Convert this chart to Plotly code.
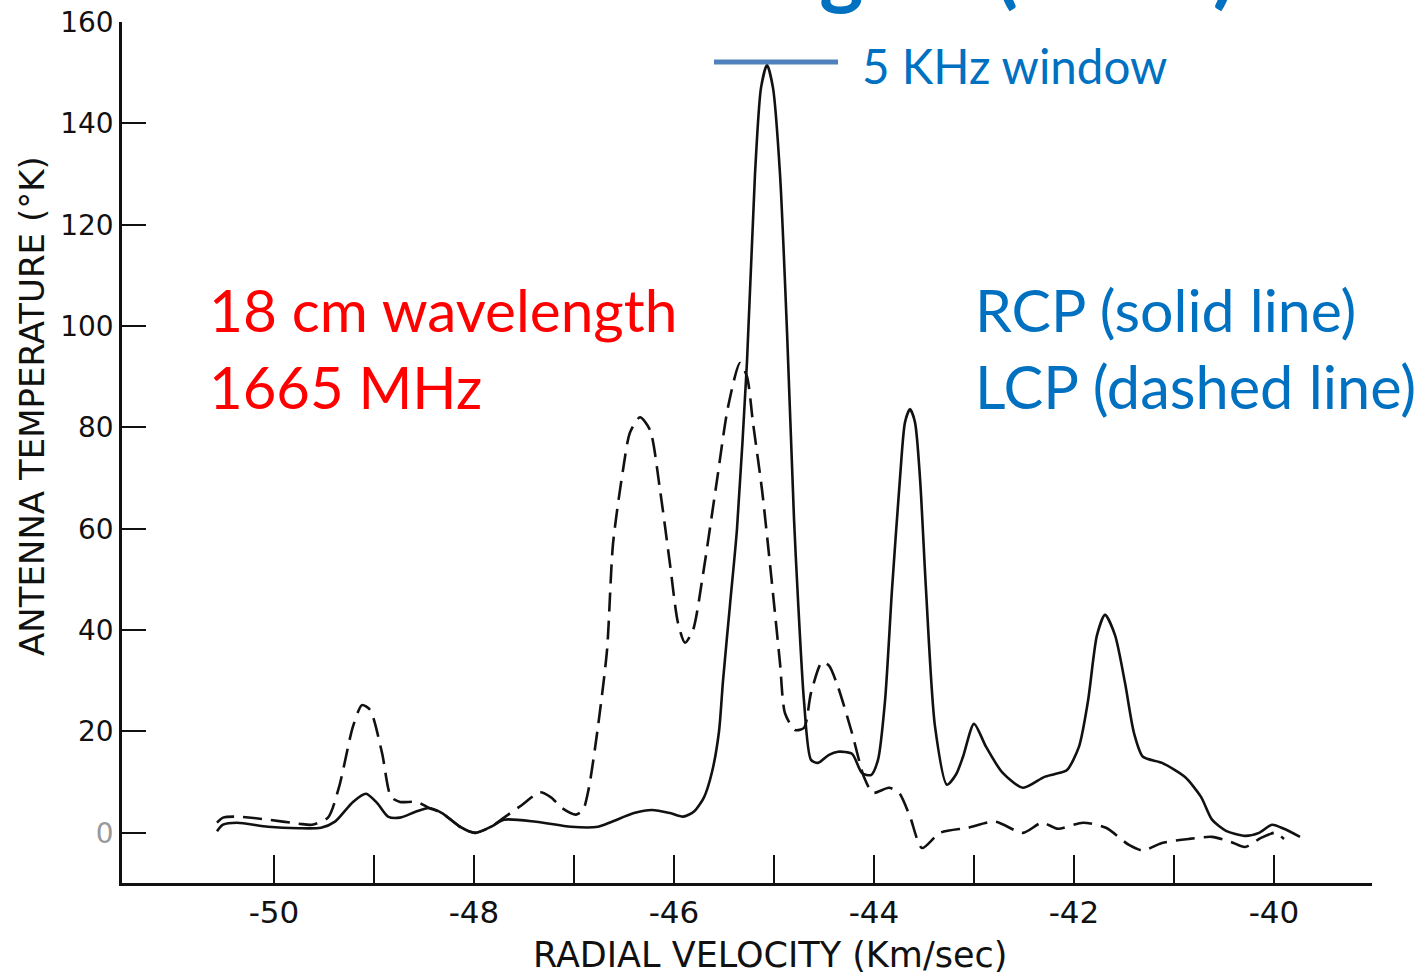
import plotly.graph_objects as go

# RCP (solid line) — radial velocity (km/s) vs antenna temperature (K)
rcp_v = [-50.57, -50.51, -50.37, -50.06, -49.75, -49.53, -49.39, -49.21, -49.08, -48.97,
         -48.86, -48.74, -48.59, -48.45, -48.32, -48.14, -47.99, -47.83, -47.70, -47.38,
         -47.03, -46.76, -46.62, -46.40, -46.22, -46.04, -45.91, -45.80, -45.70, -45.62,
         -45.55, -45.51, -45.44, -45.37, -45.27, -45.19, -45.13, -45.07, -45.01, -44.94,
         -44.87, -44.80, -44.76, -44.70, -44.63, -44.56, -44.45, -44.36, -44.22, -44.12,
         -44.03, -43.96, -43.89, -43.82, -43.74, -43.69, -43.64, -43.59, -43.54, -43.48,
         -43.39, -43.27, -43.18, -43.11, -43.00, -42.88, -42.72, -42.51, -42.30, -42.19,
         -42.07, -41.95, -41.86, -41.77, -41.69, -41.59, -41.49, -41.40, -41.31, -41.12,
         -40.89, -40.73, -40.62, -40.48, -40.29, -40.15, -40.02, -39.90, -39.74]
rcp_t = [0.3, 1.6, 2.0, 1.2, 0.9, 1.0, 2.2, 6.1, 7.7, 5.9,
         3.2, 3.0, 4.1, 4.9, 3.9, 1.2, 0.0, 1.2, 2.6, 2.2,
         1.2, 1.2, 2.2, 3.9, 4.5, 3.9, 3.2, 4.2, 7.0, 12.0,
         20.0, 30.0, 45.0, 60.0, 93.0, 130.0, 147.0, 151.5, 147.0, 130.0,
         99.0, 62.0, 46.0, 26.0, 14.4, 13.8, 15.4, 16.0, 15.6, 11.8,
         11.4, 14.4, 26.0, 48.0, 70.0, 81.0, 83.6, 81.0, 70.0, 48.0,
         21.0, 9.5, 11.5, 15.0, 21.5, 17.0, 12.0, 8.9, 11.0, 11.6,
         12.4, 17.0, 26.0, 39.0, 43.0, 39.0, 29.6, 19.7, 15.0, 13.8,
         11.0, 7.1, 2.6, 0.4, -0.6, 0.0, 1.6, 0.8, -0.8]

# LCP (dashed line)
lcp_v = [-50.57, -50.51, -50.37, -50.06, -49.75, -49.62, -49.46, -49.35, -49.21, -49.12,
         -49.04, -48.92, -48.83, -48.74, -48.57, -48.45, -48.32, -48.14, -47.99, -47.83,
         -47.70, -47.52, -47.34, -47.23, -47.12, -46.98, -46.91, -46.85, -46.76, -46.67,
         -46.61, -46.51, -46.44, -46.34, -46.24, -46.14, -46.04, -45.96, -45.89, -45.81,
         -45.71, -45.57, -45.46, -45.34, -45.27, -45.21, -45.12, -45.04, -44.94, -44.89,
         -44.79, -44.70, -44.63, -44.52, -44.45, -44.36, -44.22, -44.10, -44.01, -43.85,
         -43.75, -43.64, -43.52, -43.34, -43.06, -42.79, -42.51, -42.32, -42.16, -41.91,
         -41.68, -41.45, -41.31, -41.12, -40.85, -40.62, -40.43, -40.29, -40.13, -39.99,
         -39.90]
lcp_t = [2.0, 3.0, 3.2, 2.6, 1.8, 1.6, 3.0, 9.0, 21.0, 25.2,
         24.3, 15.8, 7.1, 6.1, 6.1, 4.9, 3.9, 1.2, 0.0, 1.2,
         3.0, 5.5, 8.0, 7.0, 4.9, 3.6, 4.5, 9.0, 21.0, 36.0,
         57.0, 71.6, 79.0, 82.0, 79.5, 67.7, 53.0, 41.4, 37.5, 40.0,
         51.0, 69.6, 84.0, 92.7, 90.0, 80.9, 67.7, 53.0, 33.5, 23.6,
         20.3, 20.7, 27.6, 33.7, 33.0, 28.8, 19.7, 11.0, 7.9, 8.9,
         7.9, 3.2, -3.0, 0.0, 1.0, 2.2, 0.0, 2.0, 0.8, 2.0,
         1.0, -2.4, -3.5, -2.0, -1.2, -0.8, -1.8, -2.8, -1.0, 0.0,
         -1.2]

x_tickvals = [-50, -49, -48, -47, -46, -45, -44, -43, -42, -41, -40]
x_ticktext = ["-50", "", "-48", "", "-46", "", "-44", "", "-42", "", "-40"]
y_tickvals = [0, 20, 40, 60, 80, 100, 120, 140, 160]
y_ticktext = ["<span style='color:#999999'>0</span>", "20", "40", "60", "80",
              "100", "120", "140", "160"]
x_title = "RADIAL VELOCITY (Km/sec)"
y_title = "ANTENNA TEMPERATURE (°K)"

W, H = 1424, 974
L, R, T, B = 122, 52, 22, 91


def px(xp):
    return (xp - L) / (W - L - R)


def py(yp):
    return (H - B - yp) / (H - T - B)


fig = go.Figure()
fig.add_trace(go.Scatter(x=rcp_v, y=rcp_t, mode="lines", name="RCP",
                         line=dict(color="#111111", width=2.6, shape="spline", smoothing=0.7)))
fig.add_trace(go.Scatter(x=lcp_v, y=lcp_t, mode="lines", name="LCP",
                         line=dict(color="#111111", width=2.6, dash="19px,9px",
                                   shape="spline", smoothing=0.7)))

lettering = "'DejaVu Sans', Verdana, sans-serif"

fig.update_layout(
    width=W, height=H,
    margin=dict(l=L, r=R, t=T, b=B, pad=0, autoexpand=False),
    paper_bgcolor="white", plot_bgcolor="white",
    showlegend=False,
    xaxis=dict(range=[-51.52, -39.02], tickvals=x_tickvals, ticktext=x_ticktext,
               ticks="inside", ticklen=28, tickwidth=2, tickcolor="#111111",
               showline=True, linecolor="#111111", linewidth=2.5,
               showgrid=False, zeroline=False, automargin=False,
               tickfont=dict(family=lettering, size=31, color="#111111")),
    yaxis=dict(range=[-9.9, 160], tickvals=y_tickvals, ticktext=y_ticktext,
               ticks="inside", ticklen=24, tickwidth=2, tickcolor="#111111",
               showline=True, linecolor="#111111", linewidth=2.5,
               showgrid=False, zeroline=False, automargin=False,
               tickfont=dict(family=lettering, size=28, color="#111111")),
)

# axis titles (placed like the original lettering)
fig.add_annotation(text=x_title, xref="paper", yref="paper", x=px(770), y=py(955),
                   xanchor="center", yanchor="middle", showarrow=False,
                   font=dict(family=lettering, size=35, color="#111111"))
fig.add_annotation(text=y_title, xref="paper", yref="paper", x=px(32), y=py(406),
                   xanchor="center", yanchor="middle", showarrow=False, textangle=-90,
                   font=dict(family=lettering, size=34, color="#111111"))

# 5 KHz window marker bar
fig.add_shape(type="line", xref="x", yref="y", x0=-45.6, x1=-44.36, y0=152.1, y1=152.1,
              line=dict(color="#4f81bd", width=5))

calib = "Lato, 'Open Sans', sans-serif"
ann = [
    dict(text="5 KHz window", x=px(860), y=py(65), size=47.5, color="#0070c0"),
    dict(text="18 cm wavelength", x=px(207), y=py(309), size=58.5, color="#ff0000"),
    dict(text="1665 MHz", x=px(207), y=py(386), size=58, color="#ff0000"),
    dict(text="RCP (solid line)", x=px(973), y=py(309), size=59, color="#0070c0"),
    dict(text="LCP (dashed line)", x=px(973), y=py(386), size=59.5, color="#0070c0"),
]
for a in ann:
    fig.add_annotation(text=a["text"], xref="paper", yref="paper", x=a["x"], y=a["y"],
                       xanchor="left", yanchor="middle", showarrow=False,
                       font=dict(family=calib, size=a["size"], color=a["color"]))

# partially visible slide title at the very top (cropped in the original)
fig.add_annotation(text="<b>OH signal (1965)</b>", xref="paper", yref="paper",
                   x=px(1238), y=py(-35), xanchor="right", yanchor="middle",
                   showarrow=False,
                   font=dict(family=calib, size=84, color="#0070c0"))

fig.write_html("out.html")
